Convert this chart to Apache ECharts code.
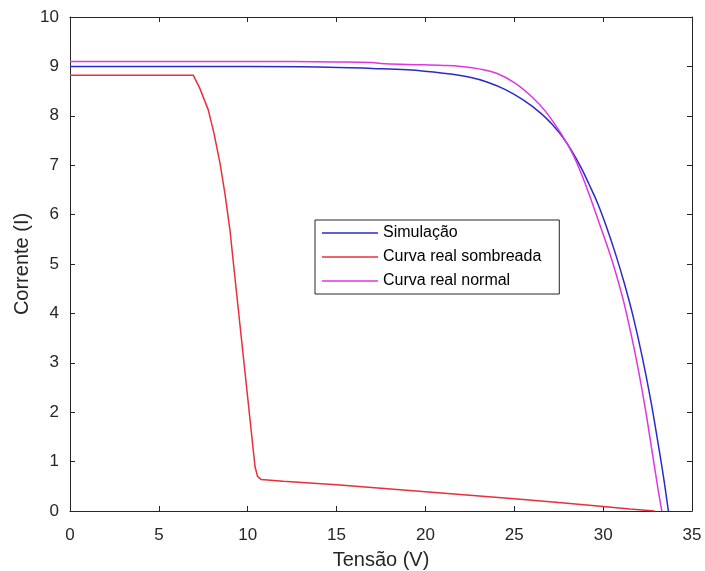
<!DOCTYPE html>
<html>
<head>
<meta charset="utf-8">
<script src="https://cdn.jsdelivr.net/npm/echarts@6/dist/echarts.min.js"></script>
<style>
html,body{margin:0;padding:0;background:#fff;}
#chart{width:705px;height:571px;}
</style>
</head>
<body>
<div id="chart"></div>
<script>
// ---- data ----
const xTicks = [0, 5, 10, 15, 20, 25, 30, 35];
const yTicks = [0, 1, 2, 3, 4, 5, 6, 7, 8, 9, 10];

const seriesNames = ['Simulação', 'Curva real sombreada', 'Curva real normal'];

// Simulação
const simV = [0, 5, 10, 14, 17, 19, 21, 22.5, 23.5, 24.5, 25.5, 26.5, 27.2, 27.7, 28.3, 28.8, 29.2, 29.7, 30.2, 30.7, 31.2, 31.7, 32.2, 32.7, 33.1, 33.4, 33.67];
const simI = [9.0, 9.0, 9.0, 8.99, 8.96, 8.93, 8.86, 8.78, 8.68, 8.53, 8.32, 8.05, 7.8, 7.58, 7.25, 6.92, 6.62, 6.22, 5.74, 5.2, 4.6, 3.92, 3.12, 2.2, 1.35, 0.68, 0];

// Curva real sombreada
const shadeV = [0, 3, 6.94, 7.3, 7.78, 8.1, 8.44, 8.72, 9.0, 9.2, 9.77, 10.41, 10.55, 10.75, 12, 15, 17.5, 20, 22.5, 25, 27.5, 30, 31.5, 32.9];
const shadeI = [8.82, 8.82, 8.82, 8.56, 8.12, 7.65, 7.04, 6.42, 5.69, 5.0, 3.07, 0.9, 0.7, 0.64, 0.6, 0.53, 0.46, 0.39, 0.32, 0.25, 0.17, 0.09, 0.04, 0];

// Curva real normal
const normV = [0, 5, 10, 15, 17, 17.5, 19, 21, 22, 23, 24, 25, 26, 26.8, 27.7, 28.3, 28.8, 29.2, 29.66, 30.1, 30.56, 31.0, 31.3, 31.85, 32.36, 32.8, 33.1, 33.3];
const normI = [9.1, 9.1, 9.1, 9.09, 9.08, 9.06, 9.04, 9.02, 9.0, 8.95, 8.86, 8.67, 8.38, 8.07, 7.6, 7.22, 6.8, 6.42, 5.95, 5.5, 5.0, 4.45, 4.02, 3.1, 2.1, 1.1, 0.42, 0];

const zip = (a, b) => a.map((v, i) => [v, b[i]]);

const axisColor = '#262626';
const font = 'Liberation Sans, Arial, Helvetica, sans-serif';
const colors = ['#2a2acc', '#e8303c', '#e035e0'];

const chart = echarts.init(document.getElementById('chart'), null, {renderer: 'canvas'});

const baseX = {
  type: 'value', min: xTicks[0], max: xTicks[xTicks.length - 1], interval: 5,
  axisLine: {show: true, onZero: false, lineStyle: {color: axisColor, width: 1}},
  axisTick: {show: true, inside: true, length: 5, lineStyle: {color: axisColor}},
  splitLine: {show: false}
};
const baseY = {
  type: 'value', min: yTicks[0], max: yTicks[yTicks.length - 1], interval: 1,
  axisLine: {show: true, onZero: false, lineStyle: {color: axisColor, width: 1}},
  axisTick: {show: true, inside: true, length: 5, lineStyle: {color: axisColor}},
  splitLine: {show: false}
};

chart.setOption({
  animation: false,
  backgroundColor: '#ffffff',
  grid: {left: 70, top: 17, right: 13, bottom: 60, containLabel: false, outerBoundsMode: 'none'},
  legend: {
    orient: 'vertical',
    left: 315, top: 220,
    data: seriesNames.map(n => ({name: n, icon: 'rect'})),
    itemWidth: 56, itemHeight: 1.6, itemGap: 8,
    padding: [5, 18, 5, 7],
    borderColor: axisColor, borderWidth: 1,
    backgroundColor: '#ffffff',
    textStyle: {fontSize: 16, color: '#000', fontFamily: font, lineHeight: 16}
  },
  xAxis: [
    Object.assign({}, baseX, {
      position: 'bottom',
      name: 'Tensão (V)', nameLocation: 'middle', nameGap: 39,
      nameTextStyle: {fontSize: 20, color: axisColor, fontFamily: font},
      axisLabel: {show: true, fontSize: 17, color: axisColor, margin: 16, fontFamily: font}
    }),
    Object.assign({}, baseX, {position: 'top', axisLabel: {show: false}})
  ],
  yAxis: [
    Object.assign({}, baseY, {
      position: 'left',
      name: 'Corrente (I)', nameLocation: 'middle', nameGap: 38, nameMoveOverlap: false,
      nameTextStyle: {fontSize: 20, color: axisColor, fontFamily: font},
      axisLabel: {show: true, fontSize: 17, color: axisColor, margin: 11, fontFamily: font, padding: [4, 0, 0, 0]}
    }),
    Object.assign({}, baseY, {position: 'right', axisLabel: {show: false}})
  ],
  series: [
    {
      name: seriesNames[0], type: 'line', data: zip(simV, simI),
      symbol: 'none', smooth: 0.4,
      lineStyle: {color: colors[0], width: 1.5}, itemStyle: {color: colors[0]}
    },
    {
      name: seriesNames[1], type: 'line', data: zip(shadeV, shadeI),
      symbol: 'none', smooth: false,
      lineStyle: {color: colors[1], width: 1.5}, itemStyle: {color: colors[1]}
    },
    {
      name: seriesNames[2], type: 'line', data: zip(normV, normI),
      symbol: 'none', smooth: 0.4,
      lineStyle: {color: colors[2], width: 1.5}, itemStyle: {color: colors[2]}
    }
  ]
});
</script>
</body>
</html>
